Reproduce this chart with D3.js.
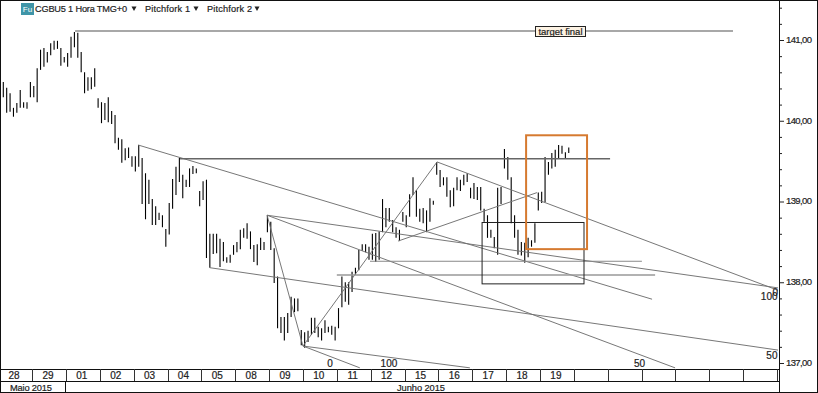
<!DOCTYPE html>
<html>
<head>
<meta charset="utf-8">
<script src="https://cdn.jsdelivr.net/npm/d3@7"></script>
<style>
  html, body { margin: 0; padding: 0; background: #fff; }
  svg { display: block; }
  text { font-family: "Liberation Sans", Arial, sans-serif; fill: #222; stroke: #222; stroke-width: 0.2; }
</style>
</head>
<body>
<div id="chart-area"></div>
<script>
/* CGBU5 hourly bars with pitchforks */

var highs = [140.48,140.41,140.34,140.16,140.22,140.38,140.23,140.23,140.48,140.43,
  140.65,140.88,140.90,140.85,140.96,140.99,140.99,140.90,140.79,140.84,
  141.04,141.10,141.09,140.85,140.60,140.54,140.54,140.65,140.28,140.23,
  140.22,140.29,140.12,140.07,139.79,139.77,139.66,139.67,139.56,139.56,
  139.70,139.54,139.35,139.27,139.03,138.94,138.86,138.83,138.66,138.98,
  139.28,139.43,139.54,139.33,139.27,139.41,139.44,139.41,139.13,139.25,
  139.27,138.60,138.60,138.60,138.54,138.50,138.31,138.34,138.46,138.50,
  138.65,138.67,138.73,138.63,138.46,138.47,138.55,138.50,138.83,138.75,
  138.42,138.07,137.57,137.57,137.62,137.82,137.80,137.80,137.41,137.38,
  137.40,137.56,137.56,137.45,137.43,137.53,137.45,137.46,137.45,137.68,
  138.07,138.00,138.00,138.13,138.18,138.40,138.47,138.47,138.44,138.60,
  138.61,138.63,139.03,138.92,138.92,138.77,138.68,138.65,138.87,138.83,
  139.09,139.30,139.14,138.91,138.92,138.89,139.04,139.01,139.49,139.39,
  139.30,139.30,139.14,139.17,139.30,139.27,139.33,139.35,139.17,139.23,
  139.18,139.18,138.91,138.83,138.65,138.56,139.17,139.18,139.65,139.55,
  139.30,138.83,138.65,138.50,138.49,138.55,138.52,138.73,139.11,139.12,
  139.55,139.49,139.60,139.64,139.70,139.69,139.61,139.67];

var lows = [140.29,140.10,140.11,140.05,140.10,140.16,140.16,140.15,140.29,140.29,
  140.23,140.63,140.67,140.72,140.81,140.88,140.89,140.68,140.72,140.67,
  140.78,140.91,140.78,140.60,140.34,140.37,140.39,140.42,140.16,139.97,
  140.01,139.98,139.96,139.72,139.64,139.48,139.51,139.54,139.43,139.37,
  139.43,138.97,138.78,138.97,138.71,138.71,138.77,138.68,138.44,138.59,
  138.91,139.08,139.24,139.04,139.18,139.18,139.34,139.35,138.94,139.02,
  138.30,138.18,138.35,138.36,138.19,138.26,138.24,138.24,138.34,138.37,
  138.41,138.55,138.54,138.41,138.25,138.21,138.40,138.40,138.62,138.40,
  137.99,137.43,137.37,137.28,137.37,137.57,137.63,137.64,137.22,137.19,
  137.26,137.35,137.37,137.32,137.28,137.37,137.38,137.35,137.28,137.43,
  137.69,137.76,137.72,137.88,138.09,138.15,138.39,138.37,138.28,138.28,
  138.25,138.28,138.62,138.68,138.75,138.62,138.55,138.51,138.75,138.68,
  138.81,139.08,138.81,138.75,138.73,138.62,138.75,138.96,139.33,139.18,
  139.20,139.06,138.93,138.94,139.14,139.13,139.20,139.24,139.04,139.03,
  139.02,138.89,138.75,138.55,138.55,138.42,138.34,138.97,139.41,139.27,
  138.73,138.55,138.34,138.33,138.24,138.31,138.44,138.49,138.89,138.98,
  138.99,139.33,139.41,139.43,139.54,139.59,139.54,139.60];

var dayLabels = ["28","29","01","02","03","04","05","08","09","10","11","12","15","16","17","18","19"];
var priceTicks = [141,140,139,138,137];
var minorTicks = [141.4,141.2,140.8,140.6,140.4,140.2,139.8,139.6,139.4,139.2,138.8,138.6,138.4,138.2,137.8,137.6,137.4,137.2];

// trend lines: [bar, price, bar, price]
var forkLines = [
  [39.8,139.70,191.6,137.79],
  [61.0,138.18,228.8,137.16],
  [77.9,138.83,198.4,136.94],
  [77.9,138.83,228.8,137.93],
  [77.9,138.83,88.5,137.21],
  [88.5,137.21,137.8,136.94],
  [88.5,137.21,105.3,136.94],
  [88.5,137.21,128.1,139.49],
  [128.1,139.49,228.8,137.90],
  [116.6,138.51,157.6,139.11]
];
var levelLines = [
  [21.2,141.11,215.5,141.11,"#a8a8a8",2],
  [52.2,139.53,179.2,139.53,"#666",1.5],
  [108.3,138.26,188.6,138.26,"#888",1],
  [98.5,138.09,192.5,138.09,"#999",1.5]
];
var forkLabels = [["0",96.5,136.95],["100",113.9,136.95],["50",187.9,136.95],["100",226.2,137.78],["0",228,137.83],["50",227,137.05]];

var width = 818, height = 393;
var axisX = 779, dateTop = 369, dateMid = 381;

var svg = d3.select("#chart-area").append("svg")
    .attr("width", width)
    .attr("height", height);

var x = d3.scaleLinear().domain([0, 228.5]).range([3.3, 777]);
var y = d3.scaleLinear().domain([141, 137]).range([40, 363]);

var plot = svg.append("g");

// bars
plot.selectAll(".bar")
  .data(highs)
  .enter().append("line")
    .attr("class", "bar")
    .attr("x1", (d, i) => x(i))
    .attr("x2", (d, i) => x(i))
    .attr("y1", d => y(d))
    .attr("y2", (d, i) => y(lows[i]))
    .attr("stroke", "#000")
    .attr("stroke-width", 1.1);

// pitchfork lines
plot.selectAll(".fork")
  .data(forkLines)
  .enter().append("line")
    .attr("class", "fork")
    .attr("x1", d => x(d[0]))
    .attr("y1", d => y(d[1]))
    .attr("x2", d => x(d[2]))
    .attr("y2", d => y(d[3]))
    .attr("stroke", "#707070")
    .attr("stroke-width", 0.95);

plot.selectAll(".level")
  .data(levelLines)
  .enter().append("line")
    .attr("class", "level")
    .attr("x1", d => x(d[0]))
    .attr("y1", d => y(d[1]))
    .attr("x2", d => x(d[2]))
    .attr("y2", d => y(d[3]))
    .attr("stroke", d => d[4])
    .attr("stroke-width", d => d[5]);

// boxes
plot.append("rect")
    .attr("x", x(141.4))
    .attr("y", y(138.74))
    .attr("width", x(171.5) - x(141.4))
    .attr("height", y(137.98) - y(138.74))
    .attr("fill", "none")
    .attr("stroke", "#222")
    .attr("stroke-width", 1);

plot.append("rect")
    .attr("x", x(154.4))
    .attr("y", y(139.82))
    .attr("width", x(172.4) - x(154.4))
    .attr("height", y(138.41) - y(139.82))
    .attr("fill", "none")
    .attr("stroke", "#d67a30")
    .attr("stroke-width", 2);

// target label
plot.append("rect")
    .attr("x", 535.5)
    .attr("y", 26.5)
    .attr("width", 50)
    .attr("height", 10)
    .attr("fill", "#fdf3e4")
    .attr("stroke", "#222");

plot.append("text")
    .attr("x", 560.5)
    .attr("y", 34.5)
    .attr("text-anchor", "middle")
    .attr("textLength", 44)
    .style("font-size", "9.5px")
    .text("target final");

plot.selectAll(".fork-label")
  .data(forkLabels)
  .enter().append("text")
    .attr("class", "fork-label")
    .attr("x", d => x(d[1]))
    .attr("y", d => y(d[2]))
    .attr("text-anchor", "middle")
    .style("font-size", "10px")
    .text(d => d[0]);

// price axis
var priceAxis = d3.axisRight(y)
    .tickValues(priceTicks)
    .tickFormat(d => d3.format(".2f")(d).replace(".", ","))
    .tickSize(5)
    .tickPadding(2);

var priceG = svg.append("g")
    .attr("transform", "translate(" + axisX + ",0)")
    .call(priceAxis);
priceG.select(".domain").remove();
priceG.selectAll("text")
    .style("font-size", "9.5px")
    .style("font-family", "Liberation Sans")
    .attr("dy", "0.25em")
    .attr("textLength", 26);
priceG.selectAll("line").attr("stroke", "#222");

var minorG = svg.append("g")
    .attr("transform", "translate(" + axisX + ",0)")
    .call(d3.axisRight(y).tickValues(minorTicks).tickFormat("").tickSize(3));
minorG.select(".domain").remove();
minorG.selectAll("line").attr("stroke", "#222");

// date strip
svg.append("rect").attr("x", 0).attr("y", dateTop).attr("width", axisX).attr("height", height - dateTop).attr("fill", "#fff");

var frame = [
  [0.5, 0, 0.5, height],
  [0, 0.5, width, 0.5],
  [width - 0.5, 0, width - 0.5, height],
  [0, height - 0.5, width, height - 0.5],
  [axisX + 0.5, 0, axisX + 0.5, height],
  [0, dateTop + 0.5, axisX, dateTop + 0.5],
  [0, dateMid + 0.5, axisX, dateMid + 0.5],
  [65.5, dateMid, 65.5, height]
];
svg.selectAll(".frame")
  .data(frame)
  .enter().append("line")
    .attr("class", "frame")
    .attr("x1", d => d[0])
    .attr("y1", d => d[1])
    .attr("x2", d => d[2])
    .attr("y2", d => d[3])
    .attr("stroke", "#111")
    .attr("stroke-width", 1);

var separators = d3.range(8.5, 229, 10);
svg.selectAll(".sep")
  .data(separators)
  .enter().append("line")
    .attr("class", "sep")
    .attr("x1", d => Math.round(x(d)) + 0.5)
    .attr("x2", d => Math.round(x(d)) + 0.5)
    .attr("y1", dateTop)
    .attr("y2", dateMid)
    .attr("stroke", "#333");

svg.selectAll(".day")
  .data(dayLabels)
  .enter().append("text")
    .attr("class", "day")
    .attr("x", (d, i) => x(i * 10 + 3.2))
    .attr("y", 379)
    .attr("text-anchor", "middle")
    .style("font-size", "10px")
    .text(d => d);

svg.append("text").attr("x", 10).attr("y", 391).attr("textLength", 42).style("font-size", "9.3px").text("Maio 2015");
svg.append("text").attr("x", 421).attr("y", 391).attr("text-anchor", "middle").attr("textLength", 48).style("font-size", "9.3px").text("Junho 2015");

// header
svg.append("rect").attr("x", 21).attr("y", 3).attr("width", 13).attr("height", 12).attr("fill", "#3f95a8");
svg.append("text").attr("x", 27.5).attr("y", 12).attr("text-anchor", "middle").style("font-size", "8px").style("fill", "#fff").style("stroke", "none").text("Fu");

var headerItems = [["CGBU5 1 Hora TMG+0", 35, 92, 134], ["Pitchfork 1", 145, 45, 196], ["Pitchfork 2", 207, 45, 257]];
svg.selectAll(".head")
  .data(headerItems)
  .enter().append("text")
    .attr("class", "head")
    .attr("x", d => d[1])
    .attr("y", 12)
    .attr("textLength", d => d[2])
    .style("font-size", "9.2px")
    .text(d => d[0]);

svg.selectAll(".caret")
  .data(headerItems)
  .enter().append("path")
    .attr("class", "caret")
    .attr("d", d3.symbol().type(d3.symbolTriangle).size(11))
    .attr("transform", d => "translate(" + d[3] + ",8) rotate(180)")
    .attr("fill", "#222");
</script>
</body>
</html>
